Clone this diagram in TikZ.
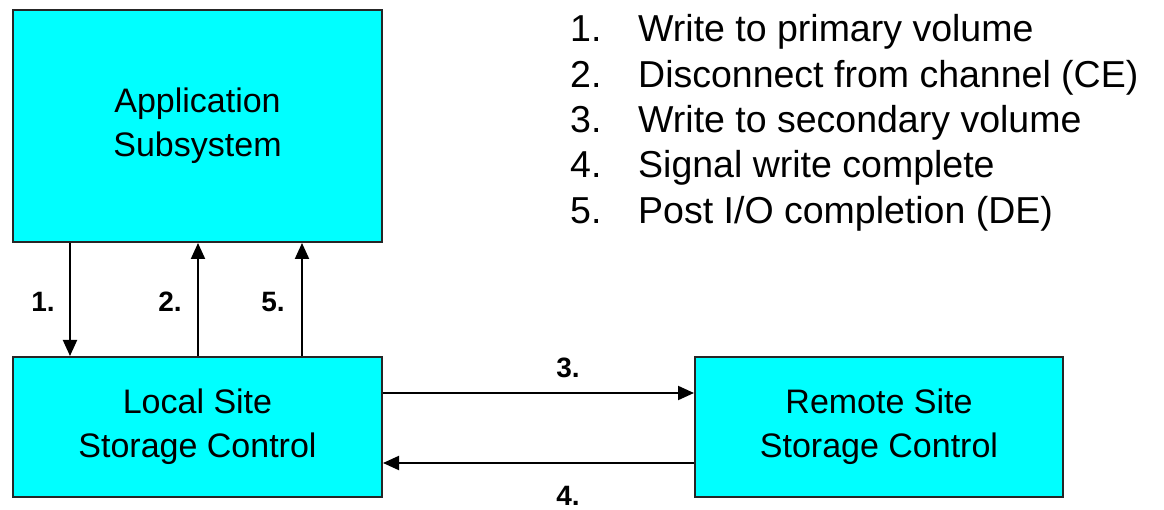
\documentclass[tikz,border=0pt]{standalone}
\usepackage{fontspec}
\setmainfont{Liberation Sans}
\usetikzlibrary{arrows.meta}
\definecolor{boxcyan}{RGB}{0,255,255}

\begin{document}
\begin{tikzpicture}[x=1pt, y=-1pt,
    box/.style={rectangle, draw=black!85, line width=2pt, fill=boxcyan, align=center,
      inner sep=0pt, font=\fontsize{34}{44}\selectfont},
    flow/.style={line width=2pt, -{Triangle[length=16pt, width=14pt]}},
    num/.style={font=\bfseries\fontsize{28}{30}\selectfont, inner sep=0pt},
    item/.style={anchor=west, inner sep=0pt, font=\fontsize{37.5}{40}\selectfont}]
    \useasboundingbox (0,0) rectangle (1164,510);

    \node[box, minimum width=369pt, minimum height=232pt] (app) at (197.5,126) {Application\\Subsystem};
    \node[box, minimum width=369pt, minimum height=140pt] (local) at (197.5,427) {Local Site\\Storage Control};
    \node[box, minimum width=368pt, minimum height=140pt] (remote) at (879,427) {Remote Site\\Storage Control};

    \coordinate (c1) at (70,0);
    \coordinate (c2) at (198,0);
    \coordinate (c5) at (302,0);
    \coordinate (c3) at (0,393);
    \coordinate (c4) at (0,463);

    \draw[flow] (c1 |- app.south) -- (c1 |- local.north);
    \draw[flow] (c2 |- local.north) -- (c2 |- app.south);
    \draw[flow] (c5 |- local.north) -- (c5 |- app.south);
    \draw[flow] (local.east |- c3) -- (remote.west |- c3);
    \draw[flow] (remote.west |- c4) -- (local.east |- c4);

    \node[num] (n1) at (43,302) {1.};
    \node[num] (n2) at (170,302) {2.};
    \node[num] (n5) at (273,302) {5.};
    \node[num] (n3) at (568,368) {3.};
    \node[num] (n4) at (568,496) {4.};

    \node[item] (s1) at (570,32) {\makebox[68pt][l]{1.}Write to primary volume};
    \node[item] (s2) at (570,78) {\makebox[68pt][l]{2.}Disconnect from channel (CE)};
    \node[item] (s3) at (570,123) {\makebox[68pt][l]{3.}Write to secondary volume};
    \node[item] (s4) at (570,168) {\makebox[68pt][l]{4.}Signal write complete};
    \node[item] (s5) at (570,214) {\makebox[68pt][l]{5.}Post I/O completion (DE)};
\end{tikzpicture}
\end{document}
